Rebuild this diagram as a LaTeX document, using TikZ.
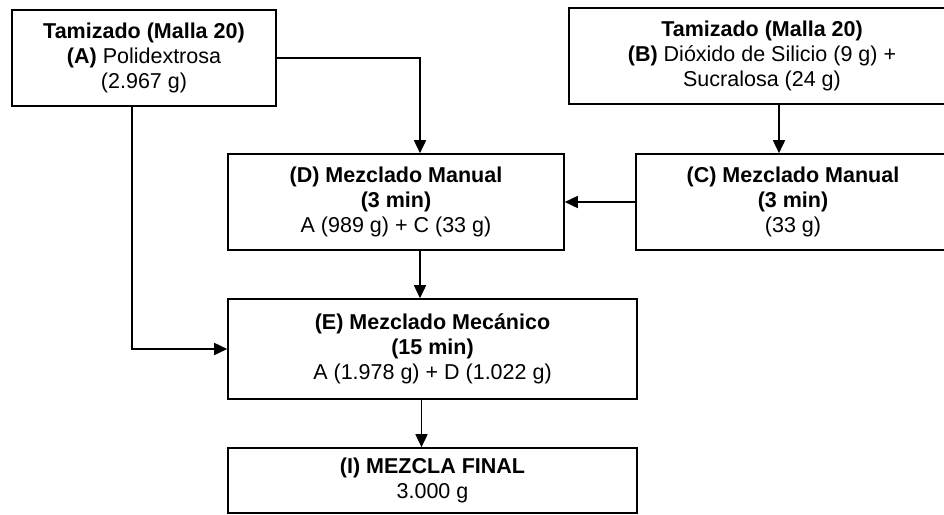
\documentclass[tikz,border=0pt]{standalone}
\usepackage{fontspec}
\setmainfont{Liberation Sans}
\usetikzlibrary{arrows.meta}

\begin{document}
\begin{tikzpicture}[x=1pt,y=-1pt,
  caja/.style={draw,line width=1.6pt,align=center,inner sep=0pt,font=\fontsize{21.5}{25}\selectfont},
  flecha/.style={line width=1.6pt,-{Triangle[length=13pt,width=12pt]}}]
\useasboundingbox (0,0) rectangle (944,514);
\clip (0,0) rectangle (944,514);
\node [caja,minimum width=264pt,minimum height=96pt] (A) at (144,58) {\textbf{Tamizado (Malla 20)}\\\textbf{(A)} Polidextrosa\\(2.967 g)};
\node [caja,minimum width=386pt,minimum height=96pt] (B) at (762,56) {\textbf{Tamizado (Malla 20)}\\\textbf{(B)} Dióxido de Silicio (9 g) +\\Sucralosa (24 g)};
\node [caja,minimum width=314pt,minimum height=96pt] (C) at (793,202) {\textbf{(C) Mezclado Manual}\\\textbf{(3 min)}\\(33 g)};
\node [caja,minimum width=336pt,minimum height=96pt] (D) at (396,202) {\textbf{(D) Mezclado Manual}\\\textbf{(3 min)}\\A (989 g) + C (33 g)};
\node [caja,minimum width=409pt,minimum height=100pt] (E) at (432.5,349) {\textbf{(E) Mezclado Mecánico}\\\textbf{(15 min)}\\A (1.978 g) + D (1.022 g)};
\node [caja,minimum width=409pt,minimum height=65pt] (I) at (432.5,480.5) {\textbf{(I) MEZCLA FINAL}\\3.000 g};
\draw [flecha] (A.east) -| ([xshift=24pt]D.north);
\draw [flecha] ([xshift=-12pt]A.south) |- (E.west);
\draw [flecha] ([xshift=17pt]B.south) -- ([xshift=17pt]B.south |- C.north);
\draw [flecha] (C.west) -- (D.east);
\draw [flecha] ([xshift=24pt]D.south) -- ([xshift=24pt]D.south |- E.north);
\draw [flecha] ([xshift=-11pt]E.south) -- ([xshift=-11pt]E.south |- I.north);
\end{tikzpicture}
\end{document}
